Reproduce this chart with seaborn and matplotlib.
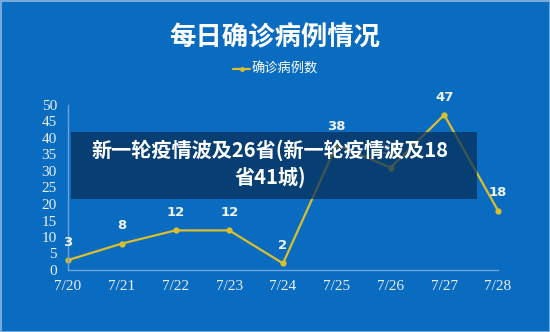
import matplotlib
matplotlib.use("Agg")
import matplotlib.pyplot as plt
import seaborn as sns
import pandas as pd
from matplotlib.patches import Rectangle

dates = ["7/20", "7/21", "7/22", "7/23", "7/24", "7/25", "7/26", "7/27", "7/28"]
cases = [3, 8, 12, 12, 2, 38, 31, 47, 18]
yticks = [0, 5, 10, 15, 20, 25, 30, 35, 40, 45, 50]
title = "每日确诊病例情况"
legend_label = "确诊病例数"
overlay = "新一轮疫情波及26省(新一轮疫情波及18\n省41城)"

BG = "#0A6CC0"
LINE = "#D9BE2E"

sns.set_theme(style="white")
plt.rcParams["font.family"] = ["Noto Sans CJK SC", "DejaVu Sans"]

df = pd.DataFrame({"x": range(len(dates)), "y": cases, "date": dates})

fig = plt.figure(figsize=(5.5, 3.32), dpi=100, facecolor=BG)
W, H = 550, 332
ax = fig.add_axes([68 / W, (H - 270) / H, (498 - 68) / W, (270 - 105) / H])
ax.set_facecolor(BG)

sns.lineplot(data=df, x="x", y="y", ax=ax, color=LINE, linewidth=1.6,
             marker="o", markersize=4.5, markeredgewidth=0, legend=False,
             clip_on=False)

ax.set_xlim(0, len(dates) - 1)
ax.set_ylim(0, 50)
ax.set_xticks(range(len(dates)))
ax.set_xticklabels(dates)
ax.set_yticks(yticks)
ax.set_yticklabels([str(v) for v in yticks])
ax.set_xlabel("")
ax.set_ylabel("")
for lab in ax.get_xticklabels() + ax.get_yticklabels():
    lab.set_family(["Liberation Serif", "DejaVu Serif"])
    lab.set_fontsize(11)
    lab.set_color("#E8F0F8")
ax.tick_params(axis="x", length=0, pad=7)
ax.tick_params(axis="y", length=0, pad=8)
for s in ["top", "right"]:
    ax.spines[s].set_visible(False)
for s in ["left", "bottom"]:
    ax.spines[s].set_color("#6FA3D6")
    ax.spines[s].set_linewidth(1.0)

for xi, yi in zip(df["x"], df["y"]):
    ax.annotate(str(yi), (xi, yi), xytext=(0, 8), textcoords="offset points",
                ha="center", va="bottom", fontsize=9.5, fontweight="bold",
                color="#EEF3F8",
                family=["Liberation Sans Narrow", "DejaVu Sans"])

# title and legend
fig.text(0.5, 1 - 38 / H, title, ha="center", va="center", fontsize=19,
         fontweight="heavy", color="white")
fig.add_artist(plt.Line2D([233 / W, 250 / W], [1 - 69 / H, 1 - 69 / H],
                          color=LINE, linewidth=1.6))
fig.add_artist(plt.Line2D([241.5 / W], [1 - 69 / H], marker="o",
                          markersize=3.5, color=LINE, markeredgewidth=0))
fig.text(252 / W, 1 - 69 / H, legend_label, ha="left", va="center",
         fontsize=9.5, color="white")

# overlay banner
fig.add_artist(Rectangle((71 / W, 1 - 199 / H), (477 - 71) / W, (199 - 132) / H,
                         transform=fig.transFigure, facecolor="#062E58",
                         alpha=0.72, edgecolor="none", zorder=5))
fig.text(270 / W, 1 - 164 / H, overlay, ha="center", va="center",
         fontsize=14.5, fontweight="heavy", color="white", zorder=6,
         linespacing=1.3)

# thin border
fig.add_artist(Rectangle((0.5 / W, 0.5 / H), 1 - 1 / W, 1 - 1 / H,
                         transform=fig.transFigure, facecolor="none",
                         edgecolor="#8DB6DC", linewidth=1.2, zorder=10))

fig.savefig("out.png", dpi=100, facecolor=BG)
